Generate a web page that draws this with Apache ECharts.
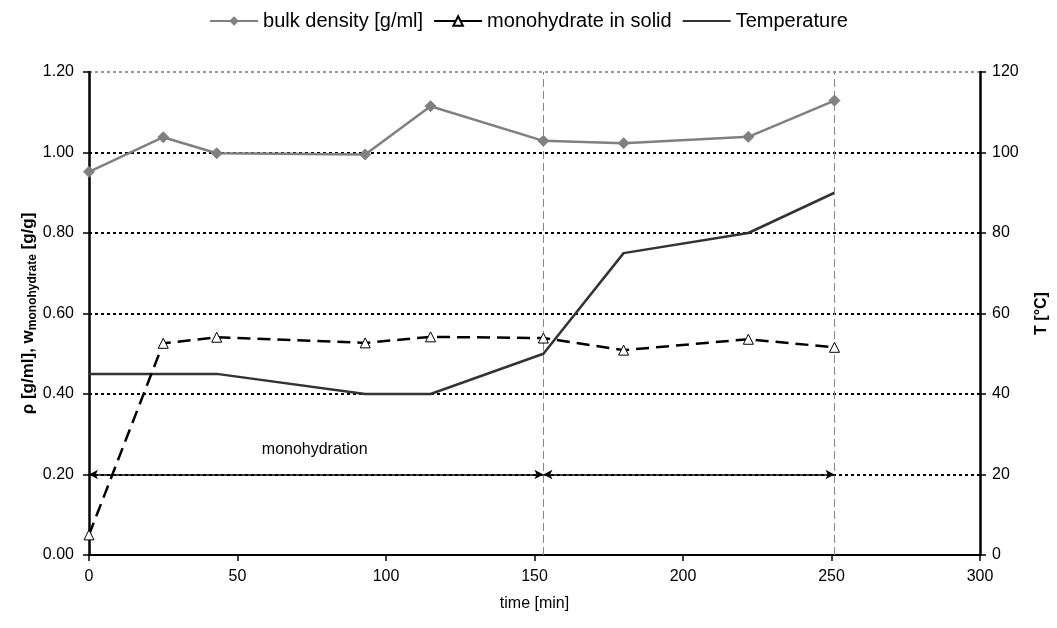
<!DOCTYPE html>
<html><head><meta charset="utf-8">
<script src="https://cdn.jsdelivr.net/npm/echarts@6/dist/echarts.min.js"></script>
<style>html,body{margin:0;padding:0;background:#fff}#c{width:1057px;height:628px}</style>
</head><body><div id="c"></div>
<script>
const timeMin = [0, 25, 43, 93, 115, 153, 180, 222, 251];
const bulkDensity = [0.952, 1.038, 0.998, 0.995, 1.115, 1.029, 1.023, 1.039, 1.129];
const monohydrate = [0.05, 0.526, 0.541, 0.527, 0.542, 0.539, 0.509, 0.536, 0.516];
const temperature = [45, 45, 45, 40, 40, 50, 75, 80, 90];
const phaseBounds = [0, 153, 251];
const phaseLabel = 'monohydration';
const phaseLabelPos = [76, 0.261];
const FONT = 'Liberation Sans, Arial, sans-serif';

const pair = (xs, ys) => xs.map((x, i) => [x, ys[i]]);

const chart = echarts.init(document.getElementById('c'), null, {renderer: 'canvas'});
chart.setOption({
  animation: false,
  textStyle: {fontFamily: FONT},
  legend: {
    top: 6, left: 'center', itemWidth: 48, itemHeight: 12, itemGap: 10,
    textStyle: {fontSize: 20, color: '#000', fontFamily: FONT},
    data: [
      'bulk density [g/ml]',
      {name: 'monohydrate in solid', lineStyle: {type: 'solid'}},
      {name: 'Temperature', itemStyle: {opacity: 0}}
    ]
  },
  grid: {left: 89, right: 77, top: 72, bottom: 73, outerBoundsMode: 'none', containLabel: false},
  xAxis: {
    type: 'value', min: 0, max: 300, interval: 50,
    name: 'time [min]', nameLocation: 'middle', nameGap: 41, nameMoveOverlap: false,
    nameTextStyle: {fontSize: 16, color: '#000', fontFamily: FONT},
    axisLine: {lineStyle: {color: '#000', width: 2}},
    axisTick: {show: true, length: 6, lineStyle: {color: '#000', width: 1.5}},
    axisLabel: {fontSize: 16, color: '#000', margin: 14},
    splitLine: {show: false}
  },
  yAxis: [{
    type: 'value', min: 0, max: 1.2, interval: 0.2, position: 'left',
    name: '{b|ρ [g/ml], w}{s|monohydrate}{b| [g/g]}', nameLocation: 'middle', nameGap: 50, nameRotate: 90,
    nameMoveOverlap: false,
    nameTextStyle: {rich: {
      b: {fontSize: 17, fontWeight: 'bold', color: '#000', fontFamily: FONT},
      s: {fontSize: 12, fontWeight: 'bold', color: '#000', fontFamily: FONT, padding: [9, 0, 0, 0]}
    }},
    axisLine: {show: true, lineStyle: {color: '#000', width: 2.5}},
    axisTick: {show: true, length: 6, lineStyle: {color: '#000', width: 1.5}},
    axisLabel: {fontSize: 16, color: '#000', margin: 15, formatter: v => v.toFixed(2)},
    splitLine: {show: true, lineStyle: {color: ['#000', '#000', '#000', '#000', '#000', '#000', '#999'], width: 2, type: [3, 3]}}
  }, {
    type: 'value', min: 0, max: 120, interval: 20, position: 'right',
    name: 'T [°C]', nameLocation: 'middle', nameGap: 54, nameRotate: 90, nameMoveOverlap: false,
    nameTextStyle: {fontSize: 16, fontWeight: 'bold', color: '#000', fontFamily: FONT},
    axisLine: {show: true, lineStyle: {color: '#000', width: 2.5}},
    axisTick: {show: true, length: 6, lineStyle: {color: '#000', width: 1.5}},
    axisLabel: {fontSize: 16, color: '#000', margin: 12},
    splitLine: {show: false}
  }],
  series: [{
    name: 'bulk density [g/ml]', type: 'line', yAxisIndex: 0,
    data: pair(timeMin, bulkDensity),
    symbol: 'diamond', symbolSize: 11, showAllSymbol: true,
    lineStyle: {color: '#808080', width: 2.5},
    itemStyle: {color: '#808080', borderColor: '#808080'},
    z: 5
  }, {
    name: 'monohydrate in solid', type: 'line', yAxisIndex: 0,
    data: pair(timeMin, monohydrate),
    symbol: 'triangle', symbolSize: 10, showAllSymbol: true,
    lineStyle: {color: '#000', width: 2.5, type: [13, 7]},
    itemStyle: {color: '#fff', borderColor: '#000', borderWidth: 1},
    z: 6,
    markLine: {
      silent: true, symbol: ['none', 'none'], label: {show: false},
      lineStyle: {color: '#888', width: 1, type: [8, 4]},
      data: [
        [{coord: [phaseBounds[1], 0]}, {coord: [phaseBounds[1], 1.2]}],
        [{coord: [phaseBounds[2], 0]}, {coord: [phaseBounds[2], 1.2]}]
      ]
    }
  }, {
    name: 'Temperature', type: 'line', yAxisIndex: 1,
    data: pair(timeMin, temperature),
    symbol: 'none',
    lineStyle: {color: '#333', width: 2.5},
    itemStyle: {color: '#333'},
    z: 4
  }, {
    name: 'phases', type: 'line', yAxisIndex: 0, data: [], symbol: 'none',
    markLine: {
      silent: true, symbol: ['arrow', 'arrow'], symbolSize: [7, 9], label: {show: false},
      lineStyle: {color: '#000', width: 1.5, type: 'solid'},
      data: [
        [{coord: [phaseBounds[0], 0.2]}, {coord: [phaseBounds[1], 0.2]}],
        [{coord: [phaseBounds[1], 0.2]}, {coord: [phaseBounds[2], 0.2]}]
      ]
    },
    markPoint: {
      silent: true, symbol: 'circle', symbolSize: 0,
      label: {show: true, position: 'inside', fontSize: 16, color: '#000', fontFamily: FONT, formatter: phaseLabel},
      data: [{coord: phaseLabelPos}]
    }
  }]
});
</script></body></html>
